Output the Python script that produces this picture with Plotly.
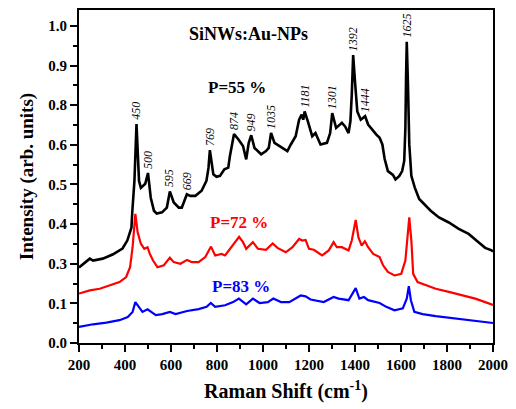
import plotly.graph_objects as go

# Raman spectra of SiNWs decorated with Au nanoparticles, three porosities
shift_55 = [200, 247, 261, 303, 346, 389, 410, 428, 432, 441, 450, 455, 461, 469, 488, 500,
            512, 526, 538, 561, 582, 595, 612, 634, 647, 669, 684, 706, 733, 754, 763, 769,
            784, 798, 813, 832, 849, 856, 865, 874, 895, 913, 927, 938, 949, 963, 992, 1013,
            1025, 1035, 1050, 1070, 1106, 1121, 1142, 1157, 1168, 1175, 1181, 1195, 1214,
            1228, 1250, 1278, 1292, 1301, 1318, 1343, 1357, 1372, 1380, 1386, 1392, 1400,
            1410, 1425, 1444, 1457, 1479, 1493, 1507, 1519, 1529, 1543, 1565, 1576, 1593,
            1605, 1614, 1619, 1622, 1625, 1630, 1636, 1645, 1660, 1679, 1708, 1729, 1765,
            1808, 1851, 1894, 1937, 1966, 1994, 2000]
int_55 = [0.238, 0.266, 0.260, 0.266, 0.279, 0.298, 0.323, 0.364, 0.417, 0.511, 0.690, 0.600,
          0.511, 0.489, 0.502, 0.536, 0.458, 0.417, 0.408, 0.412, 0.427, 0.478, 0.443, 0.427,
          0.427, 0.469, 0.464, 0.464, 0.480, 0.511, 0.552, 0.608, 0.532, 0.524, 0.527, 0.548,
          0.553, 0.589, 0.626, 0.659, 0.640, 0.621, 0.579, 0.631, 0.655, 0.615, 0.595, 0.605,
          0.615, 0.662, 0.631, 0.621, 0.605, 0.626, 0.652, 0.704, 0.720, 0.704, 0.730, 0.699,
          0.652, 0.662, 0.626, 0.631, 0.662, 0.725, 0.678, 0.694, 0.683, 0.662, 0.699, 0.783,
          0.908, 0.824, 0.730, 0.704, 0.715, 0.689, 0.668, 0.657, 0.647, 0.626, 0.580, 0.542,
          0.530, 0.516, 0.527, 0.542, 0.574, 0.678, 0.835, 0.950, 0.824, 0.627, 0.527, 0.490,
          0.454, 0.433, 0.417, 0.396, 0.380, 0.360, 0.344, 0.318, 0.300, 0.292, 0.288]

shift_72 = [200, 247, 290, 333, 376, 405, 422, 433, 445, 455, 469, 484, 498, 508, 522, 541,
            569, 595, 612, 641, 670, 691, 720, 749, 774, 792, 820, 835, 856, 877, 896, 913,
            927, 956, 978, 1013, 1042, 1063, 1099, 1128, 1157, 1171, 1185, 1200, 1221, 1257,
            1286, 1307, 1321, 1343, 1372, 1386, 1403, 1415, 1429, 1443, 1457, 1479, 1507,
            1522, 1543, 1572, 1601, 1619, 1629, 1636, 1645, 1653, 1672, 1708, 1751, 1808,
            1866, 1923, 1966, 1994, 2000]
int_72 = [0.156, 0.166, 0.171, 0.182, 0.192, 0.208, 0.239, 0.302, 0.407, 0.349, 0.313, 0.297,
          0.302, 0.281, 0.260, 0.239, 0.245, 0.269, 0.255, 0.250, 0.262, 0.255, 0.255, 0.271,
          0.304, 0.276, 0.281, 0.276, 0.297, 0.318, 0.335, 0.318, 0.297, 0.318, 0.297, 0.294,
          0.314, 0.300, 0.286, 0.302, 0.328, 0.323, 0.325, 0.297, 0.294, 0.276, 0.292, 0.318,
          0.302, 0.302, 0.292, 0.323, 0.388, 0.333, 0.307, 0.321, 0.302, 0.281, 0.271, 0.245,
          0.224, 0.213, 0.218, 0.260, 0.344, 0.396, 0.323, 0.218, 0.192, 0.182, 0.171, 0.161,
          0.150, 0.140, 0.129, 0.122, 0.120]

shift_83 = [200, 261, 319, 376, 412, 433, 445, 459, 476, 498, 517, 534, 562, 595, 620, 670,
            720, 755, 773, 792, 835, 870, 895, 927, 956, 985, 1021, 1045, 1078, 1114, 1164,
            1185, 1207, 1264, 1307, 1329, 1372, 1403, 1419, 1439, 1457, 1507, 1536, 1572,
            1608, 1625, 1634, 1643, 1658, 1694, 1751, 1837, 1923, 1994, 2000]
int_83 = [0.051, 0.059, 0.064, 0.072, 0.082, 0.098, 0.129, 0.114, 0.098, 0.106, 0.095, 0.088,
          0.091, 0.098, 0.091, 0.101, 0.107, 0.114, 0.126, 0.114, 0.119, 0.129, 0.140, 0.122,
          0.140, 0.126, 0.129, 0.140, 0.129, 0.129, 0.150, 0.147, 0.137, 0.129, 0.145, 0.140,
          0.135, 0.173, 0.140, 0.145, 0.135, 0.126, 0.114, 0.103, 0.109, 0.140, 0.179, 0.135,
          0.098, 0.091, 0.085, 0.077, 0.070, 0.064, 0.063]

# Band positions annotated on the P=55 % spectrum
peak_labels = [450, 500, 595, 669, 769, 874, 949, 1035, 1181, 1301, 1392, 1444, 1625]

x_ticks = [200, 400, 600, 800, 1000, 1200, 1400, 1600, 1800, 2000]
y_ticks = [0.0, 0.125, 0.25, 0.375, 0.5, 0.625, 0.75, 0.875, 1.0]
y_tick_text = ["0.0", "0.1", "0.3", "0.4", "0.5", "0.6", "0.8", "0.9", "1.0"]

SERIF = "Liberation Serif"

fig = go.Figure()
fig.add_trace(go.Scatter(x=shift_55, y=int_55, mode="lines",
                         line=dict(color="black", width=2.6), showlegend=False))
fig.add_trace(go.Scatter(x=shift_72, y=int_72, mode="lines",
                         line=dict(color="#ff0000", width=2.2), showlegend=False))
fig.add_trace(go.Scatter(x=shift_83, y=int_83, mode="lines",
                         line=dict(color="#0000ff", width=2.2), showlegend=False))

annotations = []
for p in peak_labels:
    # label sits just above the band maximum, read upwards
    y_peak = max(v for s, v in zip(shift_55, int_55) if abs(s - p) <= 6)
    annotations.append(dict(x=p, y=y_peak, xref="x", yref="y", text=str(p),
                            textangle=-90, showarrow=False, xanchor="center",
                            yanchor="bottom", yshift=2,
                            font=dict(family=SERIF, size=12, color="black", style="italic")))

annotations += [
    dict(x=939, y=0.975, xref="x", yref="y", text="<b>SiNWs:Au-NPs</b>", showarrow=False,
         font=dict(family=SERIF, size=18, color="black")),
    dict(x=887, y=0.806, xref="x", yref="y", text="<b>P=55 %</b>", showarrow=False,
         font=dict(family=SERIF, size=17, color="black")),
    dict(x=896, y=0.379, xref="x", yref="y", text="<b>P=72 %</b>", showarrow=False,
         font=dict(family=SERIF, size=17, color="#ff0000")),
    dict(x=905, y=0.179, xref="x", yref="y", text="<b>P=83 %</b>", showarrow=False,
         font=dict(family=SERIF, size=17, color="#0000ff")),
]

fig.update_layout(
    width=516, height=409,
    margin=dict(l=79, r=18, t=8, b=66),
    plot_bgcolor="white", paper_bgcolor="white",
    font=dict(family=SERIF, color="black"),
    annotations=annotations,
)
fig.update_xaxes(
    range=[200, 2000], tickvals=x_ticks, ticktext=[f"<b>{v}</b>" for v in x_ticks],
    ticks="outside", ticklen=7, tickwidth=2, tickcolor="black",
    minor=dict(dtick=100, tick0=200, ticks="outside", ticklen=4, tickwidth=2, tickcolor="black"),
    showline=True, linewidth=2, linecolor="black", mirror=True, showgrid=False, zeroline=False,
    tickfont=dict(family=SERIF, size=15, color="black"),
    title=dict(text="<b>Raman Shift (cm<sup>-1</sup>)</b>", font=dict(family=SERIF, size=20), standoff=12),
)
fig.update_yaxes(
    range=[0, 1.05], tickvals=y_ticks, ticktext=[f"<b>{t}</b>" for t in y_tick_text],
    ticks="outside", ticklen=7, tickwidth=2, tickcolor="black",
    minor=dict(dtick=0.0625, tick0=0, ticks="outside", ticklen=4, tickwidth=2, tickcolor="black"),
    showline=True, linewidth=2, linecolor="black", mirror=True, showgrid=False, zeroline=False,
    tickfont=dict(family=SERIF, size=15, color="black"),
    title=dict(text="<b>Intensity (arb. units)</b>", font=dict(family=SERIF, size=19), standoff=10),
)

fig.write_html("out.html")
